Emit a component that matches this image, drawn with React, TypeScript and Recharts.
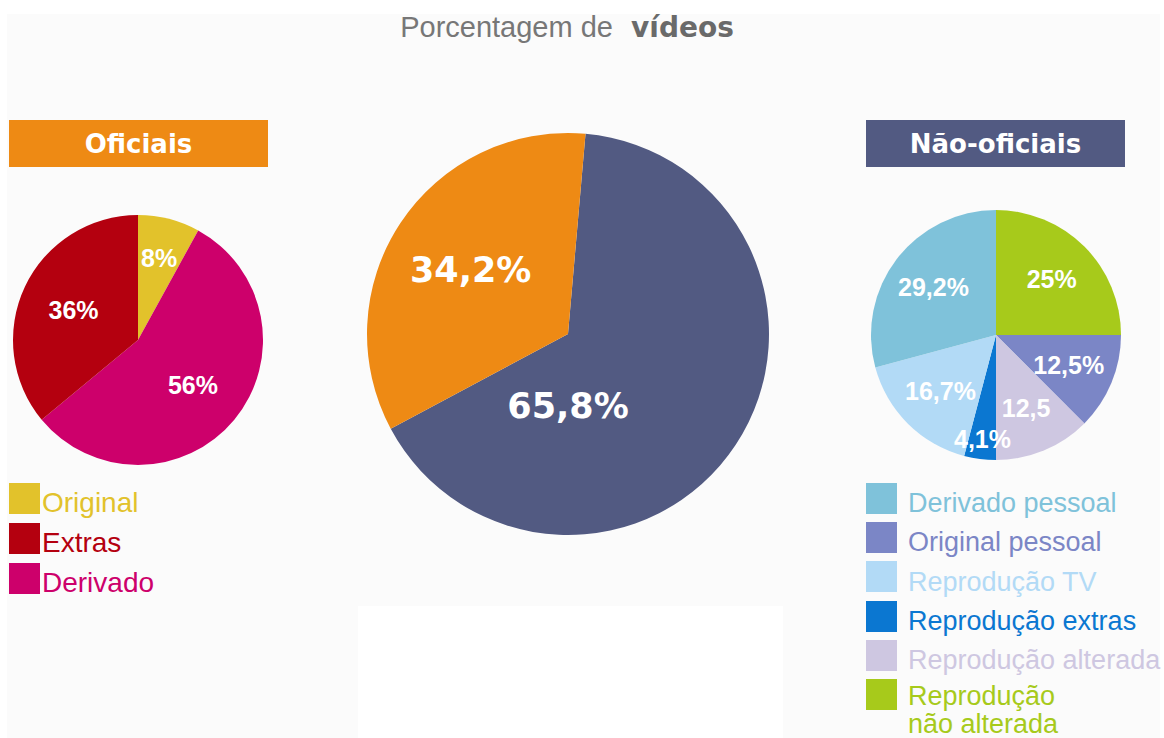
import { PieChart, Pie, Cell } from 'recharts'

// Oficiais (left pie), listed in legend order
const OFICIAIS_NAMES = ['Original', 'Extras', 'Derivado']
const OFICIAIS_VALUES = [8, 36, 56]
const OFICIAIS_LABELS = ['8%', '36%', '56%']
const OFICIAIS_COLORS = ['#E2C22B', '#B4000F', '#CD006B']
const OFICIAIS_PIE_ORDER = [0, 2, 1] // clockwise from 12 o'clock

// total split (center pie)
const TOTAL_NAMES = ['Oficiais', 'Não-oficiais']
const TOTAL_VALUES = [34.2, 65.8]
const TOTAL_LABELS = ['34,2%', '65,8%']
const TOTAL_COLORS = ['#EE8A14', '#525A82']
const TOTAL_PIE_ORDER = [1, 0]

// Não-oficiais (right pie), listed in legend order
const NAO_NAMES = [
  'Derivado pessoal',
  'Original pessoal',
  'Reprodução TV',
  'Reprodução extras',
  'Reprodução alterada',
  'Reprodução\nnão alterada',
]
const NAO_VALUES = [29.2, 12.5, 16.7, 4.1, 12.5, 25]
const NAO_LABELS = ['29,2%', '12,5%', '16,7%', '4,1%', '12,5', '25%']
const NAO_COLORS = ['#7FC2DA', '#7B86C6', '#B2DAF6', '#0B77D1', '#CEC7E1', '#A7CA1B']
const NAO_PIE_ORDER = [5, 1, 4, 3, 2, 0]

const RAD = Math.PI / 180
const SANS = '"Liberation Sans", Arial, sans-serif'
const WIDE = '"DejaVu Sans", sans-serif'

const build = (names: string[], values: number[], labels: string[], colors: string[], order: number[]) =>
  order.map((i) => ({ name: names[i], value: values[i], label: labels[i], color: colors[i] }))

const oficiaisData = build(OFICIAIS_NAMES, OFICIAIS_VALUES, OFICIAIS_LABELS, OFICIAIS_COLORS, OFICIAIS_PIE_ORDER)
const totalData = build(TOTAL_NAMES, TOTAL_VALUES, TOTAL_LABELS, TOTAL_COLORS, TOTAL_PIE_ORDER)
const naoData = build(NAO_NAMES, NAO_VALUES, NAO_LABELS, NAO_COLORS, NAO_PIE_ORDER)

function makeLabel(data: any[], fontSize: number, family: string, k: number, bigBelow = false) {
  return (p: any) => {
    let angle = p.midAngle
    // thin slices get their label pushed toward the rim
    let f = p.percent < 0.05 ? 0.84 : p.percent < 0.1 ? 0.68 : k
    // the dominant slice of the center pie has its label under the hub
    if (bigBelow && p.percent > 0.5) { angle = -90; f = 0.36 }
    const r = p.outerRadius * f
    const x = p.cx + r * Math.cos(angle * RAD)
    const y = p.cy - r * Math.sin(angle * RAD)
    return (
      <text x={x} y={y} textAnchor="middle" dominantBaseline="central" fill="#fff"
        fontFamily={family} fontWeight="bold" fontSize={fontSize}>
        {data[p.index].label}
      </text>
    )
  }
}

const Header = ({ text, bg, left }: any) => (
  <div style={{ position: 'absolute', left, top: 120, width: 259, height: 47, background: bg,
    display: 'flex', alignItems: 'center', justifyContent: 'center', color: '#fff',
    fontFamily: WIDE, fontWeight: 'bold', fontSize: 26 }}>
    {text}
  </div>
)

const Legend = ({ names, colors, left, top, step, fontSize, gap }: any) => (
  <>
    {names.map((n: string, i: number) => {
      const multi = n.includes('\n')
      const textTop = multi ? top + i * step + 3 : top + i * step + 30 - fontSize * 0.846
      return (
        <div key={n}>
          <div style={{ position: 'absolute', left, top: top + i * step, width: 31, height: 31, background: colors[i] }} />
          <div style={{ position: 'absolute', left: left + 31 + gap, top: textTop,
            color: colors[i], fontFamily: SANS, fontSize, lineHeight: multi ? '28px' : `${fontSize}px`,
            whiteSpace: 'pre' }}>
            {n}
          </div>
        </div>
      )
    })}
  </>
)

export default function App() {
  return (
    <div style={{ position: 'absolute', left: 0, top: 0, width: 1164, height: 738, overflow: 'hidden', background: '#fff' }}>
      <div style={{ position: 'absolute', left: 7, top: 14, width: 1153, height: 724, background: '#FBFBFB' }} />
      <div style={{ position: 'absolute', left: 358, top: 606, width: 425, height: 132, background: '#fff' }} />

      <div style={{ position: 'absolute', left: 0, top: 13, width: 1134, textAlign: 'center', lineHeight: '29px',
        fontFamily: SANS, fontSize: 29, color: '#777' }}>
        Porcentagem de <span style={{ marginLeft: 10, fontFamily: WIDE, fontWeight: 'bold', fontSize: 28, color: '#6A6A6A' }}>vídeos</span>
      </div>

      <Header text="Oficiais" bg="#EE8A14" left={9} />
      <Header text="Não-oficiais" bg="#525A82" left={866} />

      <div style={{ position: 'absolute', left: 0, top: 0 }}>
        <PieChart width={1164} height={738} margin={{ top: 0, right: 0, bottom: 0, left: 0 }}>
          <Pie data={oficiaisData} dataKey="value" nameKey="name" cx={138} cy={340} outerRadius={125}
            startAngle={90} endAngle={-270} stroke="none" labelLine={false}
            label={makeLabel(oficiaisData, 25, SANS, 0.57)} isAnimationActive={false}>
            {oficiaisData.map((d) => <Cell key={d.name} fill={d.color} />)}
          </Pie>
          <Pie data={totalData} dataKey="value" nameKey="name" cx={568} cy={334} outerRadius={201}
            startAngle={85} endAngle={-275} stroke="none" labelLine={false}
            label={makeLabel(totalData, 35, WIDE, 0.58, true)} isAnimationActive={false}>
            {totalData.map((d) => <Cell key={d.name} fill={d.color} />)}
          </Pie>
          <Pie data={naoData} dataKey="value" nameKey="name" cx={996} cy={335} outerRadius={125}
            startAngle={90} endAngle={-270} stroke="none" labelLine={false}
            label={makeLabel(naoData, 25, SANS, 0.63)} isAnimationActive={false}>
            {naoData.map((d) => <Cell key={d.name} fill={d.color} />)}
          </Pie>
        </PieChart>
      </div>

      <Legend names={OFICIAIS_NAMES} colors={OFICIAIS_COLORS} left={9} top={483} step={40} fontSize={28} gap={2} />
      <Legend names={NAO_NAMES} colors={NAO_COLORS} left={866} top={483} step={39.2} fontSize={27} gap={11} />
    </div>
  )
}
